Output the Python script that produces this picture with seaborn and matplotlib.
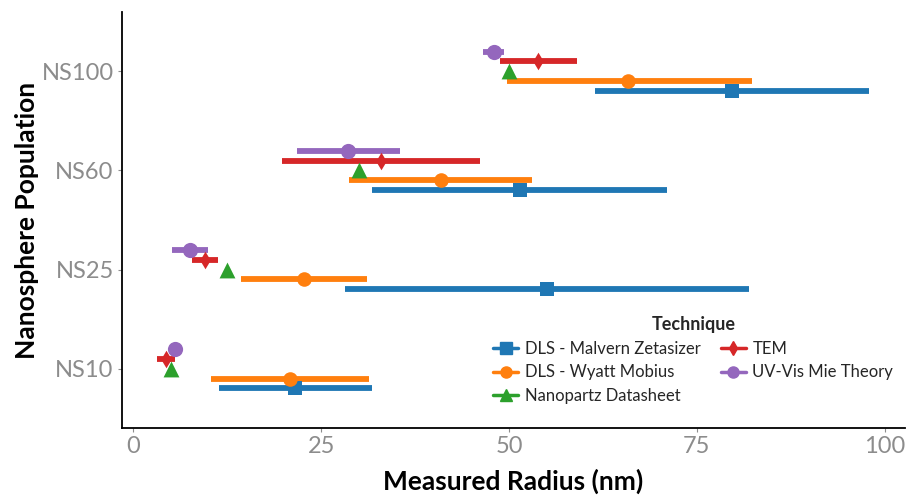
import matplotlib
matplotlib.use("Agg")
import matplotlib.pyplot as plt
from matplotlib.lines import Line2D
import seaborn as sns
import pandas as pd
import numpy as np

# Nanosphere populations (bottom to top) and measurement techniques
populations = ["NS10", "NS25", "NS60", "NS100"]
techniques = ["DLS - Malvern Zetasizer", "DLS - Wyatt Mobius", "Nanopartz Datasheet",
              "TEM", "UV-Vis Mie Theory"]

# Measured radius (nm): centre, lower and upper bound per population
malvern_mean = [21.5, 55.1, 51.4, 79.7]
malvern_low = [11.4, 28.2, 31.8, 61.5]
malvern_high = [31.8, 82.0, 71.0, 97.9]

wyatt_mean = [20.9, 22.7, 40.9, 65.9]
wyatt_low = [10.4, 14.4, 28.7, 49.7]
wyatt_high = [31.4, 31.1, 53.0, 82.3]

nanopartz_mean = [5.0, 12.5, 30.0, 50.0]
nanopartz_low = [5.0, 12.5, 30.0, 50.0]
nanopartz_high = [5.0, 12.5, 30.0, 50.0]

tem_mean = [4.3, 9.5, 33.0, 53.9]
tem_low = [3.2, 7.8, 19.8, 48.8]
tem_high = [5.5, 11.3, 46.2, 59.1]

uvvis_mean = [5.6, 7.6, 28.6, 48.0]
uvvis_low = [5.2, 5.2, 21.8, 46.6]
uvvis_high = [6.0, 10.0, 35.5, 49.4]

colors = ["#1f77b4", "#ff7f0e", "#2ca02c", "#d62728", "#9467bd"]
markers = ["s", "o", "^", "d", "o"]
marker_sizes = [110, 110, 130, 80, 120]
offsets = [-0.2, -0.1, 0.0, 0.1, 0.2]

series = [
    (malvern_mean, malvern_low, malvern_high),
    (wyatt_mean, wyatt_low, wyatt_high),
    (nanopartz_mean, nanopartz_low, nanopartz_high),
    (tem_mean, tem_low, tem_high),
    (uvvis_mean, uvvis_low, uvvis_high),
]

rows = []
for tech, (m, lo, hi), off in zip(techniques, series, offsets):
    for i, pop in enumerate(populations):
        rows.append({"Technique": tech, "Population": pop, "pos": i + off,
                     "radius": m[i], "low": lo[i], "high": hi[i]})
df = pd.DataFrame(rows)

sns.set_theme(style="white")
plt.rcParams["font.family"] = ["Lato", "DejaVu Sans"]

fig = plt.figure(figsize=(9.07, 4.96), dpi=100)
ax = fig.add_axes([0.1345, 0.137, 0.8633, 0.839])

for tech, col, mk, ms in zip(techniques, colors, markers, marker_sizes):
    sub = df[df["Technique"] == tech]
    ax.hlines(sub["pos"], sub["low"], sub["high"], color=col, lw=4.2, zorder=2)
    sns.scatterplot(data=sub, x="radius", y="pos", color=col, marker=mk, s=ms,
                    linewidth=0, ax=ax, zorder=3, legend=False)

ax.set_xlim(-1.5, 102.7)
ax.set_ylim(-0.6, 3.6)
ax.set_xticks([0, 25, 50, 75, 100])
ax.set_yticks(range(len(populations)))
ax.set_yticklabels(populations)

for lab in ax.get_xticklabels() + ax.get_yticklabels():
    lab.set_fontsize(17)
    lab.set_color("#8c8c8c")
    lab.set_fontweight("normal")

ax.tick_params(axis="both", which="major", length=3, width=0.8, color="#8c8c8c",
               left=True, bottom=True, pad=3)
ax.set_xlabel("Measured Radius (nm)", fontsize=19, fontweight="bold", color="black", labelpad=8)
ax.set_ylabel("Nanosphere Population", fontsize=19, fontweight="bold", color="black", labelpad=2)

for side in ["top", "right"]:
    ax.spines[side].set_visible(False)
for side in ["left", "bottom"]:
    ax.spines[side].set_color("black")
    ax.spines[side].set_linewidth(1.3)

handles = [Line2D([0], [0], color=c, lw=2.5, marker=m, markersize=8 if m != "d" else 7)
           for c, m in zip(colors, markers)]
leg = ax.legend(handles, techniques, title="Technique", ncol=2, frameon=False,
                loc="lower right", bbox_to_anchor=(1.0, 0.03), fontsize=12,
                title_fontproperties={"weight": "bold", "size": 13},
                handlelength=1.5, handletextpad=0.4, columnspacing=1.2,
                labelspacing=0.45, borderpad=0.2)

fig.savefig("out.png", dpi=100)
